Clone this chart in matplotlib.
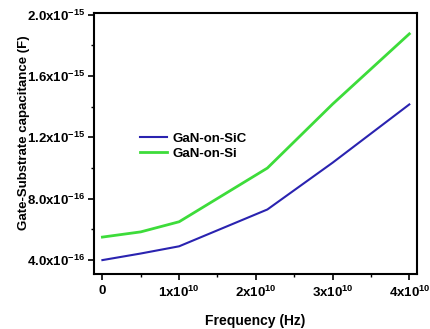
import matplotlib
matplotlib.use("Agg")
import matplotlib.pyplot as plt
from matplotlib.ticker import FixedLocator

plt.rcParams['font.family'] = ['Liberation Sans', 'DejaVu Sans']
plt.rcParams['mathtext.fontset'] = 'custom'
plt.rcParams['mathtext.rm'] = 'Liberation Sans:bold'
plt.rcParams['mathtext.bf'] = 'Liberation Sans:bold'
plt.rcParams['mathtext.it'] = 'Liberation Sans:bold'

freq = [0, 0.5e10, 1.0e10, 2.15e10, 3.0e10, 4.0e10]
sic = [4.0e-16, 4.43e-16, 4.9e-16, 7.3e-16, 1.035e-15, 1.415e-15]
si = [5.5e-16, 5.84e-16, 6.5e-16, 1.0e-15, 1.417e-15, 1.875e-15]
series_names = ["GaN-on-SiC", "GaN-on-Si"]

x_ticks = [0, 1e10, 2e10, 3e10, 4e10]
x_labels = ["0", r"1x10$^{10}$", r"2x10$^{10}$", r"3x10$^{10}$", r"4x10$^{10}$"]
y_ticks = [4.0e-16, 8.0e-16, 1.2e-15, 1.6e-15, 2.0e-15]
y_labels = [r"4.0x10$^{-16}$", r"8.0x10$^{-16}$", r"1.2x10$^{-15}$", r"1.6x10$^{-15}$", r"2.0x10$^{-15}$"]

fig = plt.figure(figsize=(4.31, 3.29), dpi=100)
ax = fig.add_axes([0.218, 0.167, 0.7495, 0.793])

ax.plot(freq, sic, color='#2a23b0', lw=1.5, label=series_names[0])
ax.plot(freq, si, color='#3ddc3a', lw=2.0, label=series_names[1])

ax.set_xlim(-0.11e10, 4.1e10)
ax.set_ylim(3.09e-16, 2.01e-15)

ax.xaxis.set_major_locator(FixedLocator(x_ticks))
ax.set_xticklabels(x_labels)
ax.xaxis.set_minor_locator(FixedLocator([0.5e10, 1.5e10, 2.5e10, 3.5e10]))
ax.yaxis.set_major_locator(FixedLocator(y_ticks))
ax.set_yticklabels(y_labels)
ax.yaxis.set_minor_locator(FixedLocator([6e-16, 1.0e-15, 1.4e-15, 1.8e-15]))

ax.tick_params(which='major', direction='out', length=4, width=1.2, labelsize=9.5)
ax.tick_params(axis='x', which='major', pad=4)
ax.tick_params(axis='y', which='major', pad=2.5)
ax.tick_params(which='minor', direction='out', length=2.5, width=1.0)
for lab in ax.get_xticklabels() + ax.get_yticklabels():
    lab.set_fontweight('bold')
for s in ax.spines.values():
    s.set_linewidth(1.5)

ax.set_xlabel("Frequency (Hz)", fontsize=10, fontweight='bold', labelpad=10)
ax.set_ylabel("Gate-Substrate capacitance (F)", fontsize=9.5, fontweight='bold')
ax.yaxis.set_label_coords(-0.198, 0.54)

leg = ax.legend(loc='center left', bbox_to_anchor=(0.105, 0.49), frameon=False,
                prop={'weight': 'bold', 'size': 9.5}, handlelength=2.1,
                handletextpad=0.35, labelspacing=0.25)

fig.savefig("out.png", dpi=100)
